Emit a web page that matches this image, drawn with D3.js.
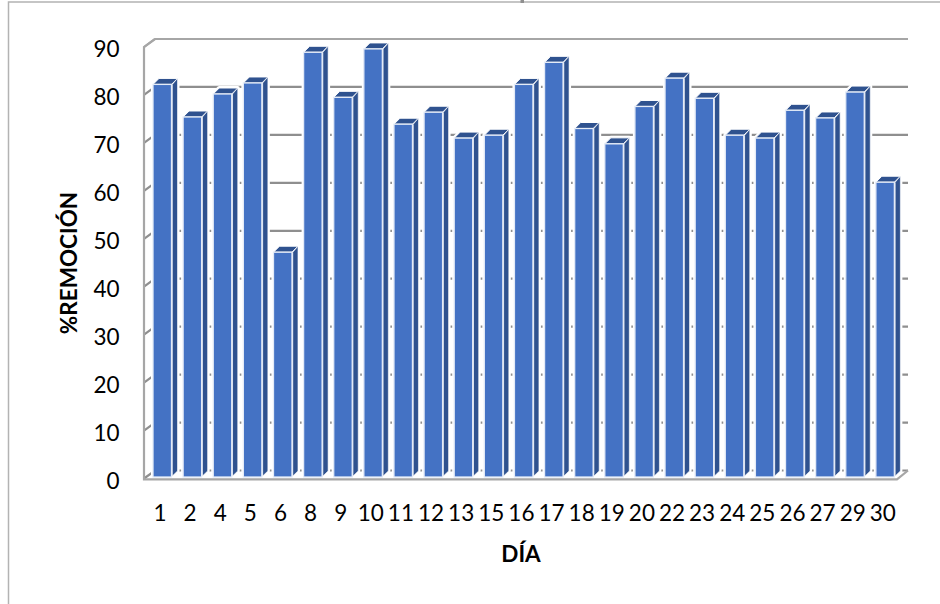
<!DOCTYPE html>
<html><head><meta charset="utf-8">
<script src="https://cdn.jsdelivr.net/npm/d3@7/dist/d3.min.js"></script>
<style>html,body{margin:0;padding:0;background:#fff}svg{display:block}text{font-family:Lato,"Open Sans",sans-serif;fill:#000}</style>
</head><body><svg id="c" width="940" height="604"></svg>
<script>
const dias = ["1","2","4","5","6","8","9","10","11","12","13","15","16","17","18","19","20","22","23","24","25","26","27","29","30"];
const remocion = [82.2,75.4,80.2,82.5,47.2,88.9,79.5,89.6,73.9,76.4,71,71.6,82.2,86.8,73,69.8,77.6,83.5,79.3,71.6,71,76.8,75.2,80.6,61.8];
const yTicks = [0,10,20,30,40,50,60,70,80,90];
const yTitle = "%REMOCIÓN", xTitle = "DÍA";

const svg = d3.select("#c");
const dx = 11, dy = 8;           // wall depth
const bdx = 6, bdy = 6;          // bar depth
const plotL = 144, plotR = 897, y0 = 478.5, y90 = 47;
const x = d3.scaleBand().domain(dias).range([plotL, plotR]).paddingInner(0).paddingOuter(0);
const y = d3.scaleLinear().domain([0, 90]).range([y0, y90]);
const gridC = "#8f8f8f", wallC = "#a6a6a6";
const barBase = y0 - 1.5;

// chart frame
svg.append("path").attr("d","M8.5,604V2H940").attr("fill","none").attr("stroke","#b3b3b3").attr("stroke-width",1.5);
svg.append("rect").attr("x",520.5).attr("y",0).attr("width",3.5).attr("height",3).attr("fill","#8f8f8f");

// gridlines on back + side walls
const grid = svg.append("g");
grid.selectAll("path").data(yTicks).join("path")
  .attr("d", d => `M${plotL},${y(d)}L${plotL+dx},${y(d)-dy}H${plotR+dx}`)
  .attr("fill","none").attr("stroke", d => d === 90 ? wallC : gridC)
  .attr("stroke-width", d => d === 90 ? 1.8 : 2.2);

// bars
const barW = 18.5;
const bars = svg.append("g").selectAll("g").data(dias.map((d,i)=>({d,v:remocion[i]}))).join("g")
  .attr("transform", d => `translate(${x(d.d) + 9},0)`);
// white halo
bars.append("path")
  .attr("d", d => `M0,${barBase}V${y(d.v)}L${bdx},${y(d.v)-bdy}H${barW+bdx}V${barBase-bdy}L${barW},${barBase}Z`)
  .attr("fill","#fff").attr("stroke","#fff").attr("stroke-width",4).attr("stroke-linejoin","round");
// top
bars.append("path")
  .attr("d", d => `M0,${y(d.v)}L${bdx},${y(d.v)-bdy}H${barW+bdx}L${barW},${y(d.v)}Z`)
  .attr("fill","#2f528f").attr("stroke","#fff").attr("stroke-width",1);
// side
bars.append("path")
  .attr("d", d => `M${barW+0.8},${y(d.v)}L${barW+bdx},${y(d.v)-bdy}V${barBase-bdy}L${barW+0.8},${barBase-1}Z`)
  .attr("fill","#2f528f").attr("stroke","#fff").attr("stroke-width",0.6);
// front
bars.append("rect")
  .attr("x",0).attr("width",barW)
  .attr("y", d => y(d.v)).attr("height", d => barBase - y(d.v))
  .attr("fill","#4472c4").attr("stroke","#e4ebf7").attr("stroke-width",1.3);

// walls drawn above the halo
svg.append("path")
  .attr("d",`M${plotL+dx},${y90-dy}L${plotL},${y90}V${y0+0.8}H${plotR}L${plotR+dx},${y0-dy}`)
  .attr("fill","none").attr("stroke",wallC).attr("stroke-width",2.2);

// axes (labels only)
const yAxis = svg.append("g").attr("transform","translate(119.5,2.5)")
  .call(d3.axisLeft(y).tickValues(yTicks).tickSize(0).tickPadding(0));
const xAxis = svg.append("g").attr("transform",`translate(0.9,${y0+24})`)
  .call(d3.axisBottom(x).tickSize(0).tickPadding(3));
[yAxis,xAxis].forEach(a=>{a.select(".domain").remove();a.selectAll("text").attr("font-size",22.5).style("font-family","Lato,'Open Sans',sans-serif").attr("fill","#000");});

svg.append("text").attr("transform","translate(76.5,263) rotate(-90)").attr("text-anchor","middle")
  .attr("font-size",22.5).attr("font-weight",700).text(yTitle);
svg.append("text").attr("x",521).attr("y",562).attr("text-anchor","middle")
  .attr("font-size",22.5).attr("font-weight",700).text(xTitle);
</script></body></html>
